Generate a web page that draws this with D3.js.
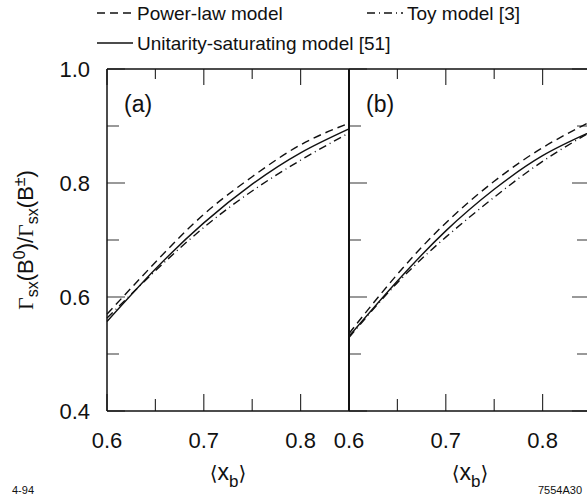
<!DOCTYPE html>
<html>
<head>
<meta charset="utf-8">
<script src="https://cdn.jsdelivr.net/npm/d3@7"></script>
<style>
  body { margin: 0; background: white; }
  text { font-family: "Liberation Sans", Arial, sans-serif; fill: #111; }
</style>
</head>
<body>
<div class="chart"></div>
<script>
const xVals = [0.60, 0.65, 0.70, 0.75, 0.80, 0.85];

// panel (a)
const powerA = [0.570, 0.661, 0.745, 0.811, 0.867, 0.905];
const unitA  = [0.557, 0.649, 0.730, 0.798, 0.853, 0.895];
const toyA   = [0.563, 0.646, 0.722, 0.786, 0.840, 0.888];

// panel (b)
const powerB = [0.536, 0.640, 0.730, 0.803, 0.862, 0.908];
const unitB  = [0.531, 0.628, 0.716, 0.789, 0.848, 0.890];
const toyB   = [0.529, 0.625, 0.705, 0.775, 0.838, 0.890];

const xMajor = [0.6, 0.7, 0.8];
const xMinor = [0.65, 0.75, 0.85];
const yMajor = [0.4, 0.6, 0.8, 1.0];
const yMinor = [0.5, 0.7, 0.9];

const w = 587;
const h = 497;
const yTop = 69, yBottom = 411;
const xLeft = 107, xMid = 349, xRight = 591;

const svg = d3.select('.chart').append('svg').attr('width', w).attr('height', h);

const y = d3.scaleLinear().domain([0.4, 1.0]).range([yBottom, yTop]);
const xA = d3.scaleLinear().domain([0.6, 0.85]).range([xLeft, xMid]);
const xB = d3.scaleLinear().domain([0.6, 0.85]).range([xMid, xRight]);

const dashes = { power: '8,5', toy: '8,4,1,4', unit: null };
const fmt = d3.format('.1f');

// inward ticks along one edge
function hTicks(x, vals, y0, len, color) {
  svg.append('g').selectAll('line').data(vals).enter().append('line')
    .attr('x1', d => x(d)).attr('x2', d => x(d))
    .attr('y1', y0).attr('y2', y0 + len)
    .attr('stroke', color).attr('stroke-width', 1.2);
}
function vTicks(vals, x0, len, color) {
  svg.append('g').selectAll('line').data(vals).enter().append('line')
    .attr('y1', d => y(d)).attr('y2', d => y(d))
    .attr('x1', x0).attr('x2', x0 + len)
    .attr('stroke', color).attr('stroke-width', 1.2);
}

function panel(x, series, label, yLabels, rightTicks) {
  const x0 = x.range()[0], x1 = x.range()[1];

  hTicks(x, xMajor, yBottom, -17, '#333');
  hTicks(x, xMinor, yBottom, -12, '#333');
  hTicks(x, xMajor, yTop, 16, '#333');
  hTicks(x, xMinor, yTop, 10, '#333');
  vTicks(yMajor, x0, 18, '#555');
  vTicks(yMinor, x0, 12, '#555');
  if (rightTicks) {
    vTicks(yMajor, x1, -19, '#555');
    vTicks(yMinor, x1, -14, '#555');
  }

  svg.append('g').selectAll('text').data(xMajor).enter().append('text')
    .attr('x', d => x(d)).attr('y', 448).attr('text-anchor', 'middle')
    .attr('font-size', 22).text(fmt);

  if (yLabels) {
    svg.append('g').selectAll('text').data(yMajor).enter().append('text')
      .attr('x', 90).attr('y', d => y(d) + 8).attr('text-anchor', 'end')
      .attr('font-size', 22).text(fmt);
  }

  const line = d3.line().x((d, i) => x(xVals[i])).y(d => y(d)).curve(d3.curveNatural);
  series.forEach(s => {
    svg.append('path').datum(s.values)
      .attr('d', line)
      .attr('fill', 'none')
      .attr('stroke', '#111')
      .attr('stroke-width', 1.4)
      .attr('stroke-dasharray', dashes[s.kind]);
  });

  svg.append('text').attr('x', x0 + 17).attr('y', 112).attr('font-size', 23).text(label);

  // x axis title <x_b>
  const t = svg.append('text').attr('x', (x0 + x1) / 2).attr('y', 480)
    .attr('text-anchor', 'middle').attr('font-size', 23);
  t.append('tspan').attr('font-family', '"DejaVu Sans", sans-serif').attr('font-size', 20).text('\u27E8');
  t.append('tspan').text('x');
  t.append('tspan').attr('font-size', 17).attr('dy', 7).text('b');
  t.append('tspan').attr('dy', -7).attr('font-family', '"DejaVu Sans", sans-serif').attr('font-size', 20).text('\u27E9');
}

panel(xA, [
  { kind: 'power', values: powerA },
  { kind: 'toy', values: toyA },
  { kind: 'unit', values: unitA }
], '(a)', true, false);

panel(xB, [
  { kind: 'power', values: powerB },
  { kind: 'toy', values: toyB },
  { kind: 'unit', values: unitB }
], '(b)', false, true);

// frames
svg.append('line').attr('x1', xLeft).attr('x2', xRight).attr('y1', yTop).attr('y2', yTop).attr('stroke', '#111').attr('stroke-width', 1.5);
svg.append('line').attr('x1', xLeft).attr('x2', xRight).attr('y1', yBottom).attr('y2', yBottom).attr('stroke', '#111').attr('stroke-width', 1.5);
svg.append('line').attr('x1', xLeft).attr('x2', xLeft).attr('y1', yTop).attr('y2', yBottom).attr('stroke', '#111').attr('stroke-width', 1.5);
svg.append('line').attr('x1', xMid).attr('x2', xMid).attr('y1', yTop).attr('y2', yBottom).attr('stroke', '#111').attr('stroke-width', 2);
svg.append('line').attr('x1', xRight).attr('x2', xRight).attr('y1', yTop).attr('y2', yBottom).attr('stroke', '#111').attr('stroke-width', 1.5);

// y axis title
const yt = svg.append('text').attr('transform', `translate(33,${(yTop + yBottom) / 2}) rotate(-90)`)
  .attr('text-anchor', 'middle').attr('font-size', 22);
yt.append('tspan').attr('font-family', '"Liberation Serif", serif').text('\u0393');
yt.append('tspan').attr('font-size', 16).attr('dy', 5).text('sx');
yt.append('tspan').attr('dy', -5).text('(B');
yt.append('tspan').attr('font-size', 16).attr('dy', -8).text('0');
yt.append('tspan').attr('dy', 8).text(')/');
yt.append('tspan').attr('font-family', '"Liberation Serif", serif').text('\u0393');
yt.append('tspan').attr('font-size', 16).attr('dy', 5).text('sx');
yt.append('tspan').attr('dy', -5).text('(B');
yt.append('tspan').attr('font-size', 16).attr('dy', -8).text('\u00B1');
yt.append('tspan').attr('dy', 8).text(')');

// legend
const legend = [
  { kind: 'power', label: 'Power-law model', x: 97, y: 13 },
  { kind: 'toy', label: 'Toy model [3]', x: 367, y: 13 },
  { kind: 'unit', label: 'Unitarity-saturating model [51]', x: 97, y: 43 }
];
legend.forEach(l => {
  svg.append('line').attr('x1', l.x).attr('x2', l.x + 36).attr('y1', l.y).attr('y2', l.y)
    .attr('stroke', '#111').attr('stroke-width', 1.4).attr('stroke-dasharray', dashes[l.kind]);
  svg.append('text').attr('x', l.x + 40).attr('y', l.y + 7).attr('font-size', 19).text(l.label);
});

// corner marks
svg.append('text').attr('x', 12).attr('y', 494).attr('font-size', 11).attr('fill', '#333').text('4-94');
svg.append('text').attr('x', 538).attr('y', 494).attr('font-size', 11).attr('fill', '#333').text('7554A30');
</script>
</body>
</html>
